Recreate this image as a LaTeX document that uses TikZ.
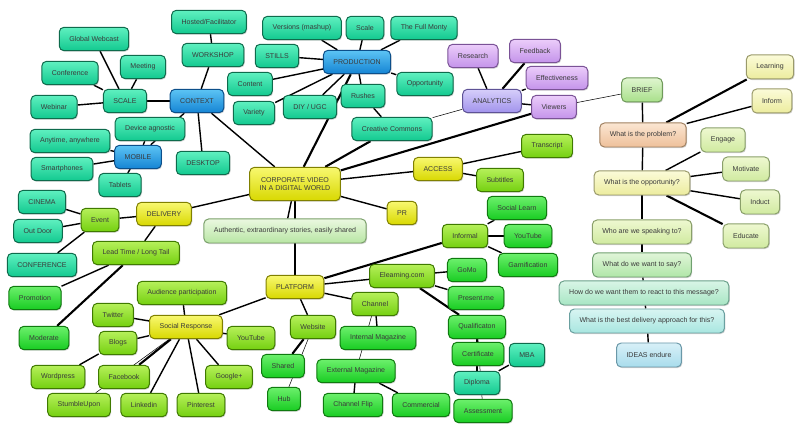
\documentclass[tikz,border=0pt]{standalone}
\usepackage{fontspec}
\setmainfont{Liberation Sans}
\usepackage{tikz}
\usetikzlibrary{shadows,backgrounds}

\definecolor{txt}{HTML}{3A3A3A}
\definecolor{tealL}{HTML}{5FF0C0}\definecolor{tealB}{HTML}{12C98F}\definecolor{tealD}{HTML}{0E6B4C}
\definecolor{blueL}{HTML}{5CC4F4}\definecolor{blueB}{HTML}{1584D4}\definecolor{blueD}{HTML}{0C4F8A}
\definecolor{yelL}{HTML}{F8F870}\definecolor{yelB}{HTML}{D8D800}\definecolor{yelD}{HTML}{808000}
\definecolor{limeL}{HTML}{B6F05A}\definecolor{limeB}{HTML}{74D010}\definecolor{limeD}{HTML}{3F7A00}
\definecolor{grnL}{HTML}{6CF06C}\definecolor{grnB}{HTML}{18CC22}\definecolor{grnD}{HTML}{0F7A0F}
\definecolor{vioL}{HTML}{EBCDFA}\definecolor{vioB}{HTML}{C493EA}\definecolor{vioD}{HTML}{7A5296}
\definecolor{anaL}{HTML}{D6CEFA}\definecolor{anaB}{HTML}{A193EC}\definecolor{anaD}{HTML}{5E5296}
\definecolor{briefL}{HTML}{DFF5CF}\definecolor{briefB}{HTML}{A8E08A}\definecolor{briefD}{HTML}{6F9A5A}
\definecolor{peachL}{HTML}{FBE6D2}\definecolor{peachB}{HTML}{EEC09A}\definecolor{peachD}{HTML}{A08060}
\definecolor{creamL}{HTML}{FBFBD8}\definecolor{creamB}{HTML}{ECEC9E}\definecolor{creamD}{HTML}{9A9A6A}
\definecolor{palegL}{HTML}{EEF8D0}\definecolor{palegB}{HTML}{D0EAA0}\definecolor{palegD}{HTML}{8AA06A}
\definecolor{sayL}{HTML}{E0F5D8}\definecolor{sayB}{HTML}{B0E6A8}\definecolor{sayD}{HTML}{70A070}
\definecolor{reactL}{HTML}{D8F5E6}\definecolor{reactB}{HTML}{A8E6C4}\definecolor{reactD}{HTML}{6AA08A}
\definecolor{apprL}{HTML}{D8F5F2}\definecolor{apprB}{HTML}{A8E6E0}\definecolor{apprD}{HTML}{6AA0A0}
\definecolor{ideasL}{HTML}{D8F0F8}\definecolor{ideasB}{HTML}{A8DCEC}\definecolor{ideasD}{HTML}{6A98A8}
\definecolor{authL}{HTML}{EAF8E0}\definecolor{authB}{HTML}{B8E6A4}\definecolor{authD}{HTML}{7AA06A}

\tikzset{
  box/.style={rounded corners=4pt, inner xsep=0.3cm, inner ysep=0pt, minimum height=0.7cm,
    line width=0.85pt, text=txt, font=\fontsize{6}{7.4}\selectfont,
    drop shadow={shadow xshift=0.8pt, shadow yshift=-0.9pt, opacity=0.35}},
  teal box/.style={box, draw=tealD, top color=tealL, bottom color=tealB},
  blue box/.style={box, draw=blueD, top color=blueL, bottom color=blueB},
  yellow box/.style={box, draw=yelD, top color=yelL, bottom color=yelB},
  lime box/.style={box, draw=limeD, top color=limeL, bottom color=limeB},
  green box/.style={box, draw=grnD, top color=grnL, bottom color=grnB},
  violet box/.style={box, draw=vioD, top color=vioL, bottom color=vioB},
  pastel/.style={box, draw=#1D, top color=#1L, bottom color=#1B, minimum height=0.72cm},
  link/.style={line width=1.2pt},
  thick link/.style={line width=1.8pt},
  thin link/.style={line width=0.45pt}
}

\begin{document}
\begin{tikzpicture}[x=0.03cm, y=-0.03cm]
  \useasboundingbox (0,0) rectangle (800,429);

  % Context branch
  \node[teal box] (hosted) at (209,22) {Hosted/Facilitator};
  \node[teal box] (workshop) at (213,55) {WORKSHOP};
  \node[teal box] (webcast) at (94,39) {Global Webcast};
  \node[teal box] (meeting) at (143,67) {Meeting};
  \node[teal box] (conference) at (70,73) {Conference};
  \node[teal box] (scale) at (125,101) {SCALE};
  \node[blue box] (context) at (197,101) {CONTEXT};
  \node[teal box] (webinar) at (54,107) {Webinar};
  \node[teal box] (agnostic) at (150,129) {Device agnostic};
  \node[teal box] (anytime) at (70,141) {Anytime, anywhere};
  \node[blue box] (mobile) at (138,157) {MOBILE};
  \node[teal box] (desktop) at (203,163) {DESKTOP};
  \node[teal box] (smartphones) at (62,169) {Smartphones};
  \node[teal box] (tablets) at (120,185) {Tablets};

  % Production branch
  \node[teal box] (versions) at (302,28) {Versions (mashup)};
  \node[teal box] (prodscale) at (365,28) {Scale};
  \node[teal box] (monty) at (424,28) {The Full Monty};
  \node[teal box] (stills) at (277,56) {STILLS};
  \node[blue box] (production) at (357,62) {PRODUCTION};
  \node[teal box] (content) at (250,84) {Content};
  \node[teal box] (opportunity) at (425,84) {Opportunity};
  \node[teal box] (variety) at (254,113) {Variety};
  \node[teal box] (diy) at (310,107) {DIY / UGC};
  \node[teal box] (rushes) at (363,96) {Rushes};
  \node[teal box] (commons) at (392,129) {Creative Commons};

  % Analytics branch
  \node[violet box] (research) at (473,56) {Research};
  \node[violet box] (feedback) at (535,51) {Feedback};
  \node[violet box] (effect) at (557,78) {Effectiveness};
  \node[box, draw=anaD, top color=anaL, bottom color=anaB] (analytics) at (492,101) {ANALYTICS};
  \node[violet box] (viewers) at (554,107) {Viewers};

  % Centre, access and PR
  \node[yellow box, minimum height=1cm, align=center] (corp) at (295,184) {CORPORATE VIDEO\\IN A DIGITAL WORLD};
  \node[yellow box] (access) at (438,169) {ACCESS};
  \node[lime box] (transcript) at (547,146) {Transcript};
  \node[lime box] (subtitles) at (500,180) {Subtitles};
  \node[yellow box] (pr) at (402,213) {PR};
  \node[pastel=auth, minimum width=4.8cm] (authentic) at (285,231) {Authentic, extraordinary stories, easily shared};

  % Delivery branch
  \node[teal box] (cinema) at (42,202) {CINEMA};
  \node[lime box] (event) at (100,220) {Event};
  \node[yellow box] (delivery) at (164,214) {DELIVERY};
  \node[teal box] (outdoor) at (38,231) {Out Door};
  \node[lime box] (leadtime) at (136,253) {Lead Time / Long Tail};
  \node[teal box] (conf2) at (42,265) {CONFERENCE};
  \node[green box] (promotion) at (35,298) {Promotion};
  \node[green box] (moderate) at (44,338) {Moderate};

  % Social response
  \node[lime box] (audience) at (182,293) {Audience participation};
  \node[lime box] (twitter) at (113,315) {Twitter};
  \node[yellow box] (social) at (186,327) {Social Response};
  \node[lime box] (blogs) at (118,343) {Blogs};
  \node[lime box] (youtubeA) at (251,338) {YouTube};
  \node[lime box] (wordpress) at (58,377) {Wordpress};
  \node[lime box] (facebook) at (124,377) {Facebook};
  \node[lime box] (google) at (229,377) {Google+};
  \node[lime box] (stumble) at (79,405) {StumbleUpon};
  \node[lime box] (linkedin) at (144,405) {Linkedin};
  \node[lime box] (pinterest) at (201,405) {Pinterest};

  % Platform branch
  \node[yellow box] (platform) at (295,287) {PLATFORM};
  \node[lime box] (informal) at (465,236) {Informal};
  \node[green box] (sociallearn) at (517,208) {Social Learn};
  \node[green box] (youtubeB) at (528,236) {YouTube};
  \node[green box] (gamification) at (528,265) {Gamification};
  \node[lime box] (elearning) at (402,276) {Elearning.com};
  \node[green box] (gomo) at (467,270) {GoMo};
  \node[green box] (presentme) at (476,298) {Present.me};
  \node[lime box] (channel) at (375,304) {Channel};
  \node[lime box] (website) at (313,327) {Website};
  \node[green box] (internal) at (378,338) {Internal Magazine};
  \node[green box] (qualif) at (477,327) {Qualificaton};
  \node[green box] (certificate) at (478,354) {Certificate};
  \node[green box] (shared) at (283,366) {Shared};
  \node[green box] (external) at (356,371) {External Magazine};
  \node[teal box] (diploma) at (477,383) {Diploma};
  \node[teal box] (mba) at (527,355) {MBA};
  \node[green box] (hub) at (284,399) {Hub};
  \node[green box] (channelflip) at (353,405) {Channel Flip};
  \node[green box] (commercial) at (421,405) {Commercial};
  \node[green box] (assessment) at (483,411) {Assessment};

  % Brief column
  \node[pastel=brief] (brief) at (642,90) {BRIEF};
  \node[pastel=peach] (problem) at (643,135) {What is the problem?};
  \node[pastel=cream] (learning) at (770,67) {Learning};
  \node[pastel=cream] (inform) at (772,101) {Inform};
  \node[pastel=cream] (opport) at (642,183) {What is the opportunity?};
  \node[pastel=paleg] (engage) at (723,140) {Engage};
  \node[pastel=paleg] (motivate) at (746,169) {Motivate};
  \node[pastel=paleg] (induct) at (760,202) {Induct};
  \node[pastel=paleg] (educate) at (746,236) {Educate};
  \node[pastel=paleg] (speaking) at (642,232) {Who are we speaking to?};
  \node[pastel=say] (say) at (642,265) {What do we want to say?};
  \node[pastel=react] (react) at (644,293) {How do we want them to react to this message?};
  \node[pastel=appr] (approach) at (647,321) {What is the best delivery approach for this?};
  \node[pastel=ideas] (ideas) at (649,355) {IDEAS endure};

  % Connectors, kept behind the boxes
  \begin{scope}[on background layer]
    \draw[link] (workshop) -- (hosted);
    \draw[link] (context) -- (workshop);
    \draw[link] (scale) -- (context);
    \draw[link] (scale) -- (webcast);
    \draw[link] (scale) -- (meeting);
    \draw[link] (scale) -- (conference);
    \draw[link] (scale) -- (webinar);
    \draw[link] (context) -- (mobile);
    \draw[link] (mobile) -- (agnostic);
    \draw[link] (context) -- (desktop);
    \draw[link] (mobile) -- (anytime);
    \draw[link] (mobile) -- (smartphones);
    \draw[link] (mobile) -- (tablets);
    \draw[link] (context) -- (corp);

    \draw[link] (production) -- (versions);
    \draw[link] (production) -- (prodscale);
    \draw[link] (production) -- (monty);
    \draw[link] (production) -- (stills);
    \draw[link] (production) -- (content);
    \draw[link] (production) -- (variety);
    \draw[link] (production) -- (diy);
    \draw[link] (production) -- (rushes);
    \draw[link] (production) -- (opportunity);
    \draw[link] (rushes) -- (commons);
    \draw[thick link] (corp) -- (production);
    \draw[thick link] (corp) -- (commons);
    \draw[thin link] (commons) -- (analytics);

    \draw[link] (analytics) -- (research);
    \draw[thick link] (analytics) -- (feedback);
    \draw[link] (analytics) -- (effect);
    \draw[link] (analytics) -- (viewers);
    \draw[thick link] (corp) -- (viewers);
    \draw[thin link] (viewers) -- (brief);

    \draw[link] (brief) -- (problem);
    \draw[thick link] (problem) -- (learning);
    \draw[link] (problem) -- (inform);
    \draw[link] (problem) -- (opport);
    \draw[link] (opport) -- (engage);
    \draw[link] (opport) -- (motivate);
    \draw[link] (opport) -- (induct);
    \draw[thick link] (opport) -- (educate);
    \draw[link] (opport) -- (speaking);
    \draw[link] (speaking) -- (say);
    \draw[link] (say) -- (react);
    \draw[link] (react) -- (approach);
    \draw[link] (approach) -- (ideas);

    \draw[link] (corp) -- (access);
    \draw[link] (access) -- (transcript);
    \draw[link] (access) -- (subtitles);
    \draw[link] (corp) -- (pr);

    \draw[link] (corp) -- (delivery);
    \draw[link] (delivery) -- (event);
    \draw[link] (event) -- (cinema);
    \draw[link] (event) -- (outdoor);
    \draw[link] (event) -- (conf2);
    \draw[link] (delivery) -- (leadtime);
    \draw[link] (leadtime) -- (promotion);
    \draw[thick link] (leadtime) -- (moderate);

    \draw[link] (corp) -- (authentic);
    \draw[link] (corp) -- (platform);
    \draw[link] (platform) -- (social);
    \draw[thick link] (platform) -- (informal);
    \draw[link] (platform) -- (elearning);
    \draw[link] (platform) -- (channel);
    \draw[link] (platform) -- (website);
    \draw[link] (informal) -- (sociallearn);
    \draw[link] (informal) -- (youtubeB);
    \draw[link] (informal) -- (gamification);
    \draw[link] (elearning) -- (gomo);
    \draw[link] (elearning) -- (presentme);
    \draw[thick link] (elearning) -- (qualif);
    \draw[link] (qualif) -- (certificate);
    \draw[link] (qualif) -- (diploma);
    \draw[thin link] (qualif) -- (assessment);
    \draw[link] (diploma) -- (mba);
    \draw[link] (channel) -- (internal);
    \draw[thin link] (channel) -- (external);
    \draw[link] (external) -- (channelflip);
    \draw[link] (external) -- (commercial);
    \draw[thick link] (website) -- (shared);
    \draw[thin link] (website) -- (hub);

    \draw[link] (social) -- (audience);
    \draw[link] (social) -- (twitter);
    \draw[link] (social) -- (blogs);
    \draw[link] (social) -- (youtubeA);
    \draw[thick link] (social) -- (facebook);
    \draw[thin link] (social) -- (stumble);
    \draw[link] (social) -- (linkedin);
    \draw[link] (social) -- (pinterest);
    \draw[link] (social) -- (google);
    \draw[link] (blogs) -- (wordpress);
  \end{scope}
\end{tikzpicture}
\end{document}
